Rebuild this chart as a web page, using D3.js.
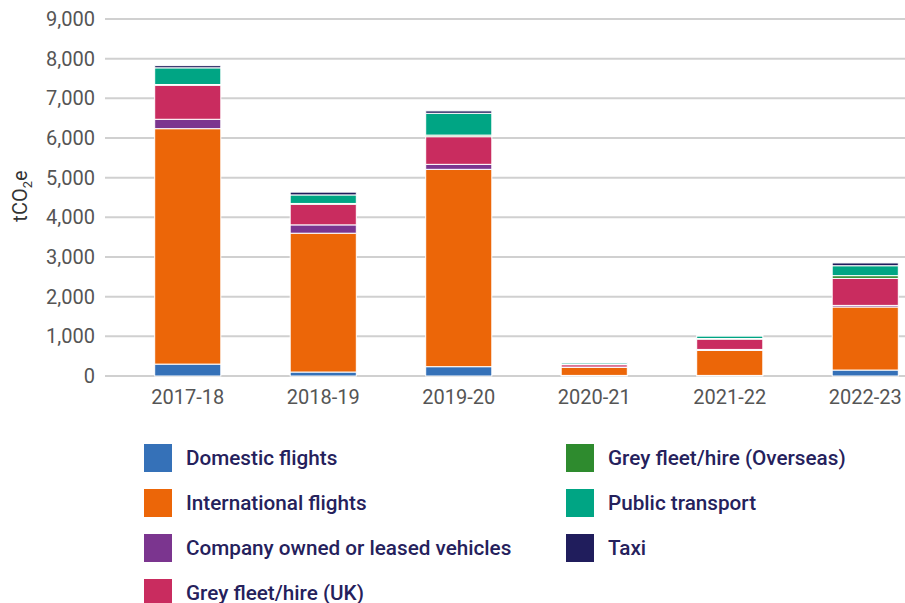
<!DOCTYPE html>
<html lang="en">
    <head>
        <meta charset="utf-8">
        <title>Business travel emissions</title>
        <script type="text/javascript" src="https://cdn.jsdelivr.net/npm/d3@7"></script>
        <style type="text/css">
            body { margin: 0; background: #fff; }
            svg { display: block; font-family: Roboto, "Noto Sans", sans-serif; }
        </style>
    </head>
    <body>
        <script type="text/javascript">

    // data (tCO2e)
    var years = ["2017-18", "2018-19", "2019-20", "2020-21", "2021-22", "2022-23"];

    var domestic        = [300, 100, 235, 15, 15, 150];
    var international   = [5935, 3500, 4975, 200, 630, 1590];
    var company         = [237, 210, 126, 10, 25, 40];
    var greyUK          = [857, 520, 697, 60, 260, 680];
    var greyOverseas    = [20, 20, 40, 5, 15, 70];
    var publicTransport = [420, 215, 550, 40, 65, 250];
    var taxi            = [55, 70, 60, 10, 10, 70];

    var seriesNames = ["Domestic flights", "International flights", "Company owned or leased vehicles",
                       "Grey fleet/hire (UK)", "Grey fleet/hire (Overseas)", "Public transport", "Taxi"];
    var seriesValues = [domestic, international, company, greyUK, greyOverseas, publicTransport, taxi];
    var seriesColors = ["#3571b8", "#ec6608", "#7b358f", "#c92c5f", "#2e8b2e", "#00a584", "#201d5c"];

    var yTicks = [0, 1000, 2000, 3000, 4000, 5000, 6000, 7000, 8000, 9000];

    var w = 905;
    var h = 603;

    // build rows for the stack
    var rows = years.map(function(y, i) {
        var r = { year: y };
        seriesNames.forEach(function(s, k) { r[s] = seriesValues[k][i]; });
        return r;
    });

    var stacked = d3.stack().keys(seriesNames)(rows);

    var xScale = d3.scaleBand()
                    .domain(years)
                    .range([120, 933])
                    .paddingInner(0.512)
                    .paddingOuter(0.256);

    var yScale = d3.scaleLinear()
                    .domain([0, 9000])
                    .range([376, 19]);

    var svg = d3.select("body")
                .append("svg")
                .attr("width", w)
                .attr("height", h);

    // gridlines
    svg.append("g")
        .selectAll("line")
        .data(yTicks)
        .enter()
        .append("line")
        .attr("x1", 105)
        .attr("x2", w)
        .attr("y1", function(d) { return yScale(d); })
        .attr("y2", function(d) { return yScale(d); })
        .attr("stroke", "#d0d0d0")
        .attr("stroke-width", 2);

    // y axis labels
    var yAxis = d3.axisLeft(yScale)
                    .tickValues(yTicks)
                    .tickFormat(d3.format(","))
                    .tickSize(0)
                    .tickPadding(0);

    var yg = svg.append("g")
        .attr("transform", "translate(95,0)")
        .call(yAxis);
    yg.select(".domain").remove();
    yg.selectAll("text")
        .attr("font-size", 20)
        .attr("font-family", "Roboto, sans-serif")
        .attr("fill", "#555");

    // x axis labels
    var xAxis = d3.axisBottom(xScale).tickSize(0).tickPadding(0);
    var xg = svg.append("g")
        .attr("transform", "translate(0,390)")
        .call(xAxis);
    xg.select(".domain").remove();
    xg.selectAll("text")
        .attr("font-size", 20)
        .attr("font-family", "Roboto, sans-serif")
        .attr("fill", "#555");

    // y title with subscript
    var yt = svg.append("text")
        .attr("transform", "translate(27,196) rotate(-90)")
        .attr("text-anchor", "middle")
        .attr("font-size", 20)
        .attr("fill", "#333");
    yt.append("tspan").text("tCO");
    yt.append("tspan").attr("font-size", 13).attr("dy", 5).text("2");
    yt.append("tspan").attr("dy", -5).text("e");

    // bars
    svg.append("g")
        .selectAll("g")
        .data(stacked)
        .enter()
        .append("g")
        .attr("fill", function(d, i) { return seriesColors[i]; })
        .selectAll("rect")
        .data(function(d) { return d; })
        .enter()
        .append("rect")
        .attr("x", function(d) { return xScale(d.data.year); })
        .attr("width", xScale.bandwidth())
        .attr("y", function(d) { return yScale(d[1]); })
        .attr("height", function(d) { return yScale(d[0]) - yScale(d[1]); })
        .attr("stroke", "#fff")
        .attr("stroke-width", 1);

    // legend, two columns
    var legend = svg.append("g")
        .selectAll("g")
        .data(seriesNames)
        .enter()
        .append("g")
        .attr("transform", function(d, i) {
            var col = i < 4 ? 0 : 1;
            var row = i < 4 ? i : i - 4;
            return "translate(" + (144 + col * 422) + "," + (444 + row * 45) + ")";
        });

    legend.append("rect")
        .attr("width", 28)
        .attr("height", 28)
        .attr("fill", function(d, i) { return seriesColors[i]; });

    legend.append("text")
        .attr("x", 42)
        .attr("y", 21)
        .attr("font-size", 20.7)
        .attr("font-weight", 500)
        .attr("fill", "#25215c")
        .text(function(d) { return d; });

        </script>
    </body>
</html>
